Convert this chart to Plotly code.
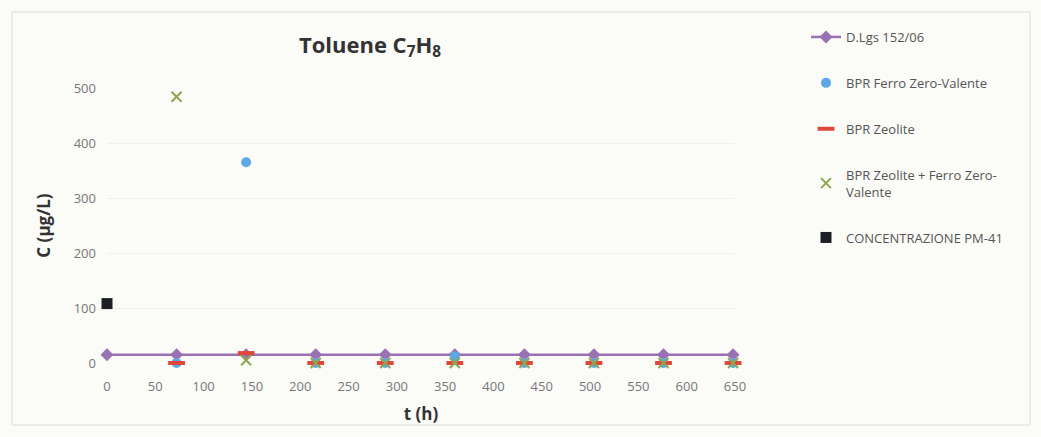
import plotly.graph_objects as go

t = [0, 72, 144, 216, 288, 360, 432, 504, 576, 648]
dlgs = [15, 15, 15, 15, 15, 15, 15, 15, 15, 15]
t_bpr = [72, 144, 216, 288, 360, 432, 504, 576, 648]
ferro = [0, 365, 0, 0, 12, 0, 0, 0, 0]
zeolite = [0, 18, 0, 0, 0, 0, 0, 0, 0]
zeo_ferro = [484, 5, 0, 0, 0, 0, 0, 0, 0]
t_pm = [0]
pm41 = [108]

names = ["D.Lgs 152/06", "BPR Ferro Zero-Valente", "BPR Zeolite",
         "BPR Zeolite + Ferro Zero-<br>Valente", "CONCENTRAZIONE PM-41"]

fig = go.Figure()
fig.add_trace(go.Scatter(x=t, y=dlgs, name=names[0], mode="lines+markers",
                         line=dict(color="#9a72b4", width=2.5),
                         marker=dict(symbol="diamond", size=10, color="#9a72b4"),
                         cliponaxis=False, legendgroup="a"))
fig.add_trace(go.Scatter(x=t_bpr, y=ferro, name=names[1], mode="markers",
                         marker=dict(symbol="circle", size=10, color="#5ea8e6"),
                         cliponaxis=False, legendgroup="b"))
fig.add_trace(go.Scatter(x=t_bpr, y=zeolite, name=names[2], mode="markers",
                         marker=dict(symbol="line-ew", size=12, color="#e0463a",
                                     line=dict(color="#e0463a", width=4)),
                         cliponaxis=False, legendgroup="c"))
fig.add_trace(go.Scatter(x=t_bpr, y=zeo_ferro, name=names[3], mode="markers",
                         marker=dict(symbol="x-thin", size=10, color="#8fa650",
                                     line=dict(color="#8fa650", width=2)),
                         cliponaxis=False, legendgroup="d"))
fig.add_trace(go.Scatter(x=t_pm, y=pm41, name=names[4], mode="markers",
                         marker=dict(symbol="square", size=11, color="#1c1f24"),
                         cliponaxis=False, legendgroup="e"))

PW, PH, L, T = 628, 275, 107, 88

fig.update_layout(
    width=1041, height=437,
    margin=dict(l=L, r=306, t=T, b=74),
    paper_bgcolor="#fbfbf8", plot_bgcolor="#fbfbf8",
    font=dict(family="Open Sans, Lato, sans-serif", color="#555555"),
    title=dict(text="<b>Toluene C<sub>7</sub>H<sub>8</sub></b>", x=370/1041, xanchor="center",
               y=1 - 45/437, yanchor="middle",
               font=dict(size=22, color="#333333", family="Open Sans, sans-serif")),
    xaxis=dict(range=[0, 650], tickvals=list(range(0, 651, 50)), showgrid=False,
               zeroline=False, showline=False, ticks="", ticklabelstandoff=14,
               tickfont=dict(size=13, color="#777777"),
               title=dict(text="<b>t (h)</b>", font=dict(size=17, color="#333333"), standoff=14)),
    yaxis=dict(range=[0, 500], tickvals=list(range(0, 501, 100)), showgrid=True,
               gridcolor="#f0f0ec", zeroline=False, showline=False, ticks="", ticklabelstandoff=10,
               tickfont=dict(size=13, color="#777777"),
               title=dict(text="<b>C (µg/L)</b>", font=dict(size=17, color="#333333"), standoff=18)),
    legend=dict(x=(806 - L)/PW, xanchor="left", y=(363 - 22)/PH, yanchor="top",
                font=dict(size=13, color="#555555"), tracegroupgap=26,
                maxheight=420, bgcolor="rgba(0,0,0,0)"),
    showlegend=True,
)
fig.add_shape(type="rect", xref="paper", yref="paper",
              x0=(12 - L)/PW, x1=(1030 - L)/PW, y0=(363 - 425)/PH, y1=(363 - 12)/PH,
              line=dict(color="#dcdcdc", width=1), fillcolor="rgba(0,0,0,0)", layer="below")

fig.write_html("out.html")
